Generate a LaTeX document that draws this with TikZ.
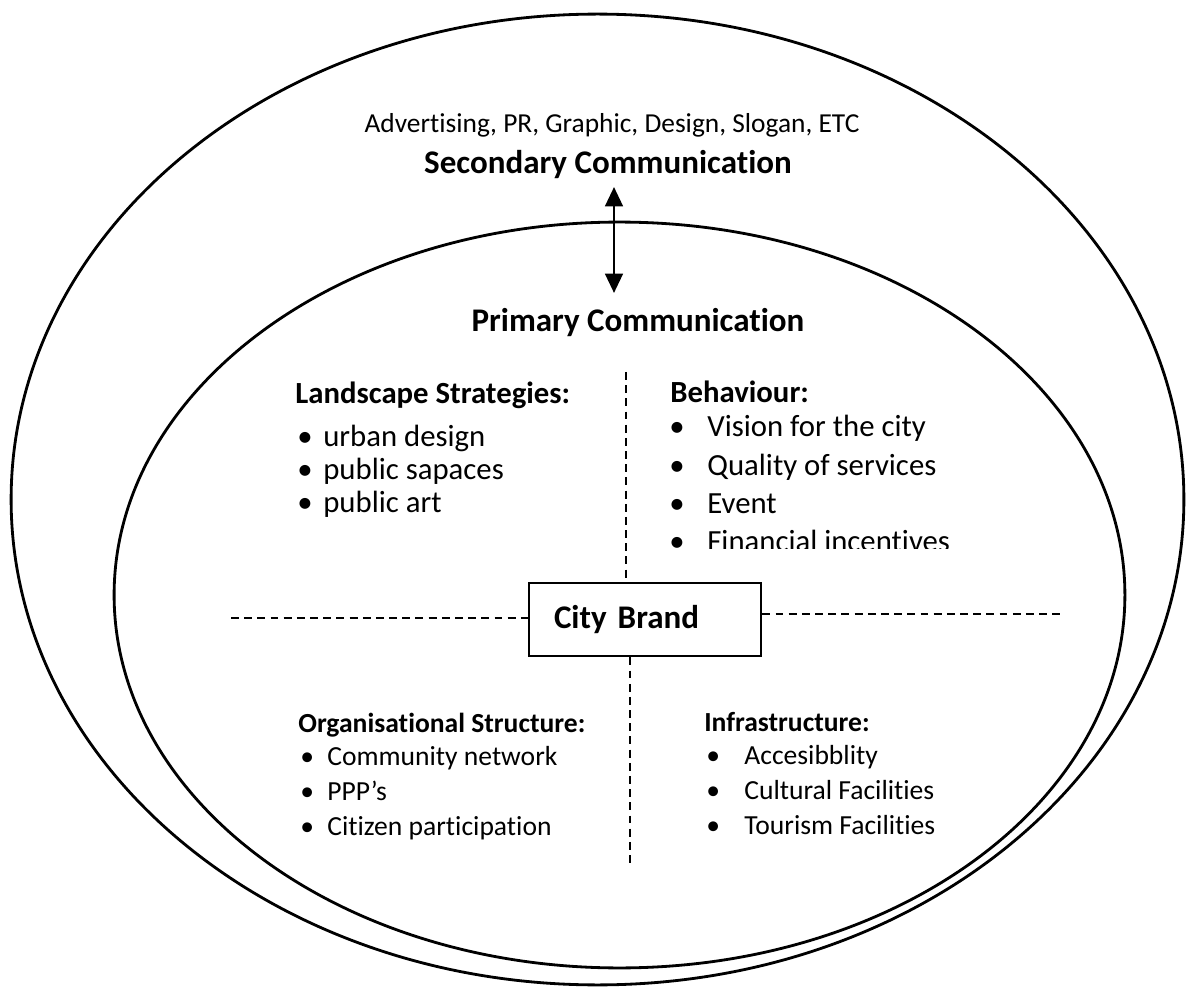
\documentclass[tikz,border=0pt]{standalone}
\usepackage{fontspec}
\setmainfont{Carlito}[Ligatures=NoCommon]
\usetikzlibrary{arrows.meta}

\tikzset{
  ring/.style={line width=1.6pt},
  headtext/.style={font=\fontsize{18.8}{22}\selectfont\bfseries, inner sep=0pt},
  subhead/.style={font=\fontsize{17.5}{21}\selectfont\bfseries, anchor=west, inner sep=0pt},
  itemtext/.style={font=\fontsize{17.5}{21}\selectfont, anchor=base west, inner sep=0pt},
  smallhead/.style={font=\fontsize{15.7}{19}\selectfont\bfseries, anchor=west, inner sep=0pt},
  smallitem/.style={font=\fontsize{15.7}{19}\selectfont, anchor=base west, inner sep=0pt},
  divider/.style={line width=1.3pt, dash pattern=on 4.5pt off 3pt},
  brandbox/.style={draw, line width=1.6pt, minimum width=4.64cm, minimum height=1.46cm,
    text width=3.64cm, align=left, inner xsep=0.5cm, font=\fontsize{18.8}{22}\selectfont\bfseries}
}

\begin{document}
\begin{tikzpicture}[x=0.02cm, y=-0.02cm]
  \useasboundingbox (0,0) rectangle (1189,989);

  % Outer ellipse - secondary communication
  \draw[ring] (597.5,499.5) ellipse [x radius=11.73cm, y radius=9.71cm];
  \node[font=\fontsize{15.6}{19}\selectfont, inner sep=0pt] (media) at (612,125)
    {Advertising, PR, Graphic, Design, Slogan, ETC};
  \node[headtext] (secondary) at (608,165) {Secondary Communication};

  % Inner ellipse - primary communication
  \draw[ring] (619.5,595) ellipse [x radius=10.11cm, y radius=7.46cm];
  \node[headtext] (primary) at (638,323) {Primary Communication};

  % two-way link between the two levels
  \coordinate (linktop) at (614,187);
  \coordinate (linkbot) at (614,293);
  \draw[line width=1.6pt, {Triangle[width=10pt,length=11pt]}-{Triangle[width=10pt,length=11pt]}]
    (linktop) -- (linkbot);

  % City brand in the middle, dashed cross
  \node[brandbox] (brand) at (645,619.5) {City Brand};
  \coordinate (upend) at (626,372);
  \coordinate (downend) at (630,865);
  \coordinate (leftend) at (231,618);
  \coordinate (rightend) at (1065,614);
  \draw[divider] (upend) -- (upend |- brand.north);
  \draw[divider] (downend |- brand.south) -- (downend);
  \draw[divider] (leftend) -- (leftend -| brand.west);
  \draw[divider] (rightend -| brand.east) -- (rightend);

  % Landscape strategies
  \node[subhead] (landscape) at (295,395) {Landscape Strategies:};
  \foreach \txt [count=\i] in {urban design, public sapaces, public art} {
    \node[itemtext] (lsdot\i) at (297,{413+33*\i}) {\textbullet};
    \node[itemtext] (ls\i) at (323,{413+33*\i}) {\txt};
  }

  % Behaviour (last line cut off at the bottom)
  \node[subhead] (behaviour) at (670,392) {Behaviour:};
  \begin{scope}
    \clip (650,400) rectangle (1000,548);
    \foreach \txt [count=\i] in {Vision for the city, Quality of services, Event, Financial incentives} {
      \node[itemtext] (bhdot\i) at (669,{399+38*\i}) {\textbullet};
      \node[itemtext] (bh\i) at (707,{399+38*\i}) {\txt};
    }
  \end{scope}

  % Organisational structure
  \node[smallhead] (organisation) at (298,725) {Organisational Structure:};
  \foreach \txt [count=\i] in {Community network, PPP’s, Citizen participation} {
    \node[smallitem] (ordot\i) at (300,{730+35*\i}) {\textbullet};
    \node[smallitem] (or\i) at (327,{730+35*\i}) {\txt};
  }

  % Infrastructure
  \node[smallhead] (infra) at (704,722) {Infrastructure:};
  \foreach \txt [count=\i] in {Accesibblity, Cultural Facilities, Tourism Facilities} {
    \node[smallitem] (indot\i) at (706,{729+35*\i}) {\textbullet};
    \node[smallitem] (in\i) at (744,{729+35*\i}) {\txt};
  }
\end{tikzpicture}
\end{document}
